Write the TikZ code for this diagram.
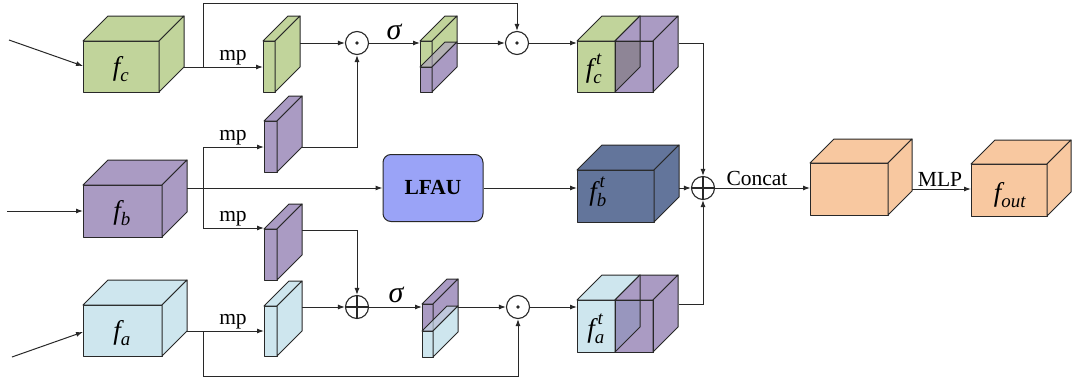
\documentclass[tikz,border=0pt]{standalone}
\usepackage{amsmath}
\usepackage{fontspec}
\setmainfont{Liberation Serif}
\usetikzlibrary{arrows.meta}

\definecolor{cgreen}{RGB}{193,212,155}
\definecolor{cpurple}{RGB}{170,155,195}
\definecolor{ccyan}{RGB}{206,230,238}
\definecolor{cnavy}{RGB}{99,117,155}
\definecolor{clfau}{RGB}{154,163,247}
\definecolor{corange}{RGB}{248,200,160}
\definecolor{cmixgp}{RGB}{142,133,150}
\definecolor{cmixcp}{RGB}{152,150,190}
\definecolor{edge}{RGB}{40,40,40}

\tikzset{
  face/.style={draw=edge, line width=1pt, line join=round},
  link/.style={draw=edge, line width=1pt},
  arr/.style={link, -{Latex[length=7pt,width=5pt]}},
  opdot/.style={circle, draw=edge, line width=1.1pt, minimum size=23pt, inner sep=0pt,
    path picture={\fill[edge] (path picture bounding box.center) circle (1.8pt);}},
  opplus/.style={circle, draw=edge, line width=1.1pt, minimum size=23pt, inner sep=0pt,
    path picture={\draw[edge, line width=1.1pt]
      (path picture bounding box.west) -- (path picture bounding box.east)
      (path picture bounding box.north) -- (path picture bounding box.south);}},
  lbl/.style={font=\fontsize{21.5}{22}\selectfont, inner sep=1pt},
  var/.style={font=\fontsize{27}{27}\selectfont, inner sep=0pt},
  sig/.style={font=\fontsize{30}{30}\selectfont\itshape, inner sep=0pt},
  unit/.style={draw=edge, line width=1pt, fill=clfau, rounded corners=8pt,
    minimum width=100pt, minimum height=67pt, font=\fontsize{21.5}{22}\selectfont\bfseries},
}

% cuboid: name, x1, y1 (front top), x2, y2 (front bottom), depth, front/top/side styles
\newcommand\featcube[9]{%
  \path[face,#7] (#2,#3) rectangle (#4,#5);
  \path[face,#8] (#2,#3) -- ({#2+#6},{#3-#6}) -- ({#4+#6},{#3-#6}) -- (#4,#3) -- cycle;
  \path[face,#9] (#4,#3) -- ({#4+#6},{#3-#6}) -- ({#4+#6},{#5-#6}) -- (#4,#5) -- cycle;
  \coordinate (#1-back) at ({#4+#6},{#5-#6});
}

\begin{document}
\begin{tikzpicture}[x=1pt, y=-1pt]
\useasboundingbox (0,0) rectangle (1072,380);

% ---------- input features ----------
\featcube{fc}{83}{41}{159}{92}{25}{fill=cgreen}{fill=cgreen}{fill=cgreen}
\featcube{fb}{83}{185}{162}{237}{25}{fill=cpurple}{fill=cpurple}{fill=cpurple}
\featcube{fa}{83}{305}{162}{356}{25}{fill=ccyan}{fill=ccyan}{fill=ccyan}
\node[var] (lfc) at (121,69) {$\textit{f}_{\textit{c}}$};
\node[var] (lfb) at (122,213) {$\textit{f}_{\textit{b}}$};
\node[var] (lfa) at (122,333) {$\textit{f}_{\textit{a}}$};

% ---------- pooled slices ----------
\featcube{mpc}{263}{41}{275}{92}{25}{fill=cgreen}{fill=cgreen}{fill=cgreen}
\featcube{mpb1}{264}{121}{277}{172}{25}{fill=cpurple}{fill=cpurple}{fill=cpurple}
\featcube{mpb2}{264}{229}{277}{280}{25}{fill=cpurple}{fill=cpurple}{fill=cpurple}
\featcube{mpa}{264}{306}{277}{356}{25}{fill=ccyan}{fill=ccyan}{fill=ccyan}

% ---------- stacked gates ----------
\featcube{sgu}{420}{41}{432}{67}{25}{fill=cgreen}{fill=cgreen}{fill=cgreen}
\featcube{sgl}{420}{67}{432}{92}{25}{fill=cpurple}{fill=cpurple, fill opacity=0.6}{fill=cpurple}
\featcube{sau}{422}{304}{433}{331}{25}{fill=cpurple}{fill=cpurple}{fill=cpurple}
\featcube{sal}{422}{331}{433}{357}{25}{fill=ccyan}{fill=ccyan, fill opacity=0.6}{fill=ccyan}

% ---------- gated outputs ----------
\featcube{fctl}{577}{41}{615}{92}{25}{fill=cgreen}{fill=cgreen}{fill=cgreen}
\featcube{fctr}{615}{41}{653}{92}{25}{fill=cpurple}{fill=cpurple}{fill=cpurple}
\fill[cmixgp] (615,41) -- (640,41) -- (640,67) -- (615,92) -- cycle;
\draw[face] (615,41) rectangle (653,92);
\draw[face] (640,16) -- (640,67) -- (615,92);
\node[var] (lfct) at (594,69) {$\textit{f}^{\,\textit{t}}_{\textit{c}}$};

\featcube{fbt}{577}{170}{654}{222}{25}{fill=cnavy}{fill=cnavy}{fill=cnavy}
\node[var] (lfbt) at (598,192) {$\textit{f}^{\,\textit{t}}_{\textit{b}}$};

\featcube{fatl}{577}{300}{615}{352}{25}{fill=ccyan}{fill=ccyan}{fill=ccyan}
\featcube{fatr}{615}{300}{653}{352}{25}{fill=cpurple}{fill=cpurple}{fill=cpurple}
\fill[cmixcp] (615,300) -- (640,300) -- (640,327) -- (615,352) -- cycle;
\draw[face] (615,300) rectangle (653,352);
\draw[face] (640,275) -- (640,327) -- (615,352);
\node[var] (lfat) at (596,329) {$\textit{f}^{\,\textit{t}}_{\textit{a}}$};

% ---------- fusion head ----------
\featcube{cat}{810}{163}{888}{215}{24}{fill=corange}{fill=corange}{fill=corange}
\featcube{out}{971}{164}{1047}{216}{24}{fill=corange}{fill=corange}{fill=corange}
\node[var] (lout) at (1010,195) {$\textit{f}_{\textit{out}}$};

\node[unit] (lfau) at (433,188) {LFAU};

% ---------- operators ----------
\node[opdot] (o1) at (357,43) {};
\node[opdot] (o2) at (517,43) {};
\node[opplus] (p2) at (357,307) {};
\node[opdot] (o3) at (518,307) {};
\node[opplus] (p1) at (703,188) {};

% ---------- ports ----------
\coordinate (fcout) at (184,67);
\coordinate (brc) at (203,67);
\coordinate (mpcin) at (263,67);
\coordinate (mpcout) at (300,43);
\coordinate (loopc) at (517,3);
\coordinate (mpb1in) at (264,147);
\coordinate (mpb1out) at (301,147);
\coordinate (fbout) at (187,188);
\coordinate (brb) at (203,188);
\coordinate (mpb2in) at (264,228);
\coordinate (mpb2out) at (302,230);
\coordinate (faout) at (187,331);
\coordinate (bra) at (203,331);
\coordinate (mpain) at (264,331);
\coordinate (mpaout) at (302,307);
\coordinate (loopa) at (518,376);
\coordinate (sgin) at (420,43);
\coordinate (sgout) at (457,43);
\coordinate (sain) at (422,307);
\coordinate (saout) at (458,307);
\coordinate (fctin) at (577,43);
\coordinate (fctout) at (679,43);
\coordinate (fbtin) at (577,188);
\coordinate (fbtout) at (679,188);
\coordinate (fatin) at (577,307);
\coordinate (fatout) at (679,304);
\coordinate (catin) at (810,188);
\coordinate (catout) at (912,189);
\coordinate (outin) at (971,189);
\coordinate (inc) at (9,40);
\coordinate (fcin) at (83,66);
\coordinate (inb) at (7,211);
\coordinate (fbin) at (83,211);
\coordinate (ina) at (12,357);
\coordinate (fain) at (83,332);

% ---------- inputs ----------
\draw[arr] (inc) -- (fcin);
\draw[arr] (inb) -- (fbin);
\draw[arr] (ina) -- (fain);

% ---------- top branch ----------
\draw[arr] (fcout) -- (mpcin);
\draw[arr] (brc) |- (loopc) -- (o2);
\draw[arr] (mpcout) -- (o1);
\draw[arr] (mpb1out) -| (o1);
\draw[arr] (o1) -- (sgin);
\draw[arr] (sgout) -- (o2);
\draw[arr] (o2) -- (fctin);
\draw[arr] (fctout) -| (p1);

% ---------- middle branch ----------
\draw[arr] (fbout) -- (lfau);
\draw[arr] (brb) |- (mpb1in);
\draw[arr] (brb) |- (mpb2in);
\draw[arr] (lfau) -- (fbtin);
\draw[arr] (fbtout) -- (p1);

% ---------- bottom branch ----------
\draw[arr] (faout) -- (mpain);
\draw[arr] (bra) |- (loopa) -- (o3);
\draw[arr] (mpb2out) -| (p2);
\draw[arr] (mpaout) -- (p2);
\draw[arr] (p2) -- (sain);
\draw[arr] (saout) -- (o3);
\draw[arr] (o3) -- (fatin);
\draw[arr] (fatout) -| (p1);

% ---------- head ----------
\draw[arr] (p1) -- (catin);
\draw[arr] (catout) -- (outin);

% ---------- labels ----------
\node[lbl, anchor=south] (mp1) at (233,66) {mp};
\node[lbl, anchor=south] (mp2) at (233,146) {mp};
\node[lbl, anchor=south] (mp3) at (233,227) {mp};
\node[lbl, anchor=south] (mp4) at (233,330) {mp};
\node[sig] (s1) at (394,32) {σ};
\node[sig] (s2) at (396,295) {σ};
\node[lbl, anchor=south] (lcat) at (757,187) {Concat};
\node[lbl, anchor=south] (lmlp) at (940,188) {MLP};
\end{tikzpicture}
\end{document}
